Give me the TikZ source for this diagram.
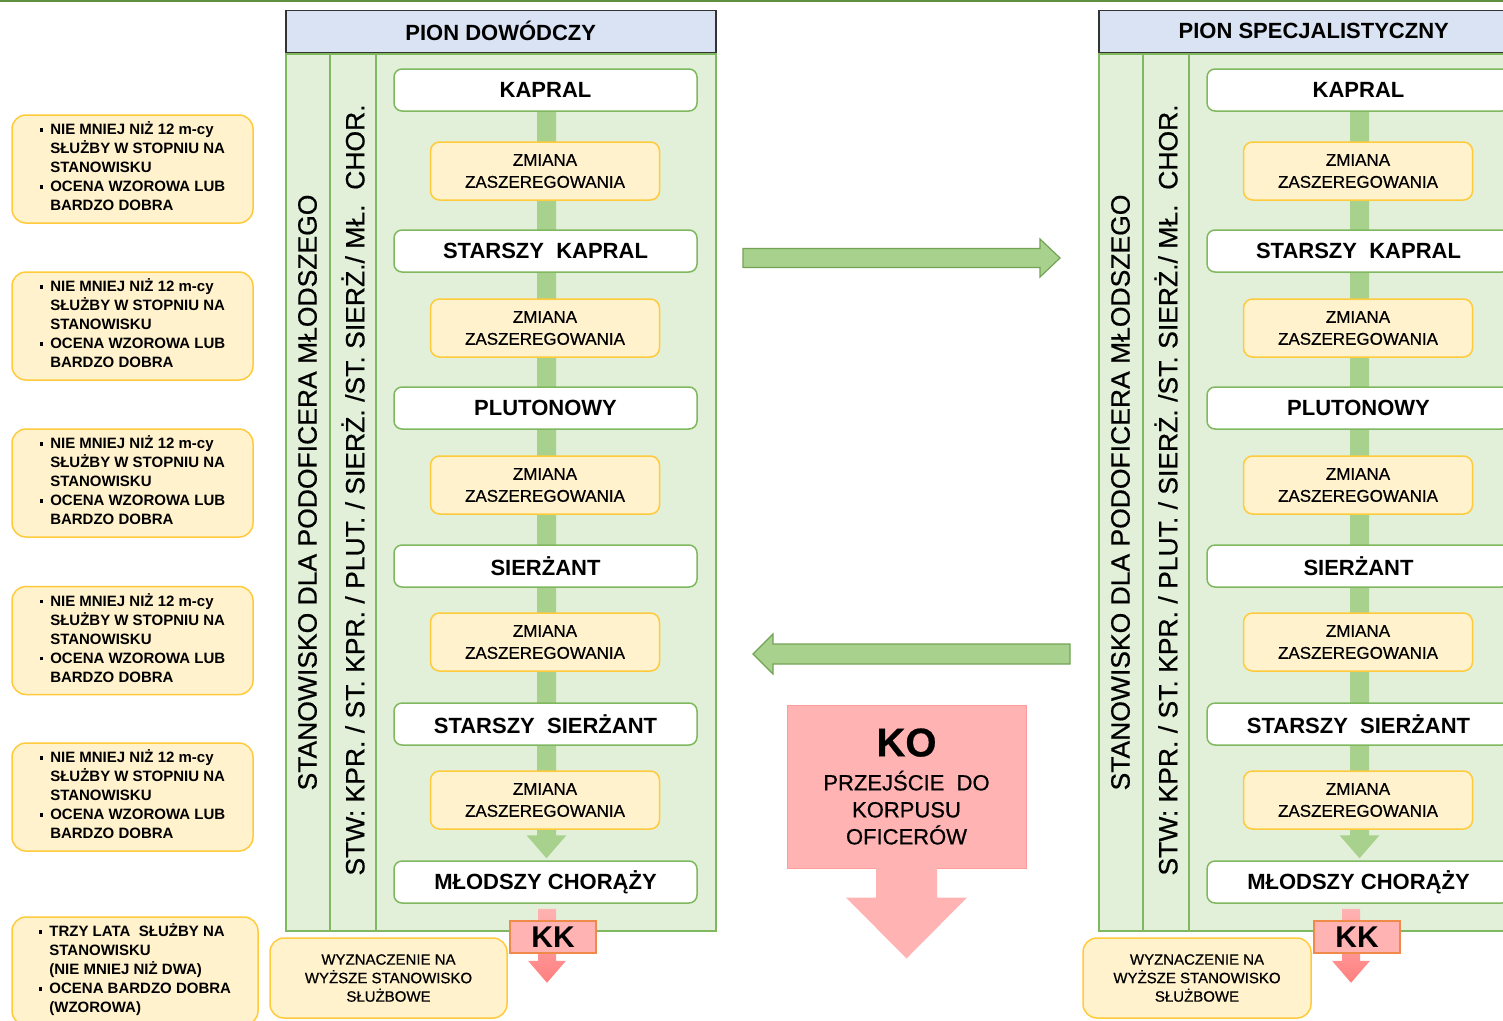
\documentclass[tikz,border=0pt]{standalone}
\usepackage{fontspec}
\setmainfont{Liberation Sans}
\newfontfamily\medfont[FakeBold=0.6]{Liberation Sans}
\usetikzlibrary{calc,positioning}
\pgfdeclarelayer{back}\pgfdeclarelayer{bars}
\pgfsetlayers{back,bars,main}
\definecolor{panelgreen}{HTML}{E2F0D9}
\definecolor{linegreen}{HTML}{7FB85E}
\definecolor{bargreen}{HTML}{A9D18E}
\definecolor{arrowedge}{HTML}{72A355}
\definecolor{headblue}{HTML}{DAE3F3}
\definecolor{noteyellow}{HTML}{FFF2CC}
\definecolor{notegold}{HTML}{FFCB3D}
\definecolor{kopink}{HTML}{FFB3B3}
\definecolor{koedge}{HTML}{FF9B9B}
\definecolor{kkedge}{HTML}{F08A4B}
\definecolor{kkred}{HTML}{FF7F7F}
\definecolor{topgreen}{HTML}{5E8F3E}
\newcommand{\bul}{\rule[3pt]{3.5pt}{3.5pt}}
\newcommand{\reqtext}{\begin{tabular}{@{}l@{\hspace{7pt}}l@{}}\bul & NIE MNIEJ NIŻ 12 m-cy\\ & SŁUŻBY W STOPNIU NA\\ & STANOWISKU\\ \bul & OCENA WZOROWA LUB\\ & BARDZO DOBRA\end{tabular}}
\tikzset{rank/.style={draw=linegreen, fill=white, rounded corners=8pt, line width=1.5pt, minimum width=303pt, minimum height=42pt, inner sep=0pt, font=\fontsize{22}{26}\selectfont\bfseries},
  change/.style={draw=notegold, fill=noteyellow, rounded corners=9pt, line width=1.5pt, minimum width=229pt, minimum height=58pt, inner sep=0pt, align=center, font=\fontsize{17}{22}\selectfont\medfont},
  req/.style={draw=notegold, fill=noteyellow, rounded corners=14pt, line width=1.5pt, minimum width=241pt, minimum height=108pt, inner sep=0pt, font=\fontsize{15}{19}\selectfont\bfseries},
  promo/.style={change, minimum width=#1, minimum height=80pt, rounded corners=14pt, font=\fontsize{15}{18.5}\selectfont\medfont},
  head/.style={draw=black!80, fill=headblue, line width=1.5pt, font=\fontsize{22}{26}\selectfont\bfseries},
  panel/.style={draw=linegreen, fill=panelgreen, line width=1.5pt},
  vlabel/.style={rotate=90, font=\fontsize{26.5}{30}\selectfont\medfont},
  garrow/.style={draw=arrowedge, fill=bargreen, line width=1.2pt},
  kk/.style={draw=kkedge, fill=kopink, line width=1.5pt, minimum width=86pt, minimum height=32pt, inner sep=0pt, font=\fontsize{30}{30}\selectfont\bfseries}}
\begin{document}
\begin{tikzpicture}[x=1pt,y=-1pt]
    \useasboundingbox (0,0) rectangle (1503,1020);
    \clip (0,0) rectangle (1503,1020);
    \begin{pgfonlayer}{back}
        \fill[white] (0,0) rectangle (1503,1020);
    \end{pgfonlayer}
    \draw[topgreen, line width=3pt] (0,0) -- (1503,0);

    % both career ladders
    \foreach \p/\dx/\kx/\wx/\ww/\pname in {D/0/7.5/388.5/237/PION DOWÓDCZY, S/813/-1.5/1197/228/PION SPECJALISTYCZNY}{
        \begin{pgfonlayer}{back}
            \node[panel, anchor=north west, minimum width=430pt, minimum height=877pt] (\p body) at (285+\dx,53) {};
            \draw[linegreen, line width=1.5pt] ($(\p body.north west)+(45,0)$) -- ($(\p body.south west)+(45,0)$)
                ($(\p body.north west)+(91,0)$) -- ($(\p body.south west)+(91,0)$);
        \end{pgfonlayer}
        \node[head, anchor=south west, minimum width=430pt, minimum height=42pt] (\p head) at (\p body.north west) {\pname};
        \node[vlabel] (\p post) at ($(\p body.north west)+(22.5,439.5)$) {STANOWISKO DLA PODOFICERA MŁODSZEGO};
        \node[vlabel] (\p grades) at ($(\p body.north west)+(68,437)$) {STW: KPR. / ST. KPR. / PLUT. / SIERŻ. /ST. SIERŻ./ MŁ.\ \ CHOR.};
        \foreach \i/\y/\r in {1/90/KAPRAL, 2/251/STARSZY\ \ KAPRAL, 3/408/PLUTONOWY, 4/566/SIERŻANT, 5/724/STARSZY\ \ SIERŻANT, 6/882/MŁODSZY CHORĄŻY}
            \node[rank] (\p r\i) at (545.5+\dx,\y) {\r};
        \foreach \i/\y in {1/171, 2/328, 3/485, 4/642, 5/800}
            \node[change] (\p c\i) at (545+\dx,\y) {ZMIANA\\ZASZEREGOWANIA};
        \begin{pgfonlayer}{bars}
            \fill[bargreen] ($(\p r1.south)+(-8.5,0)$) -- ($(\p r6.north)+(-8.5,-25)$) -- ++(-10.5,0) -- ($(\p r6.north)+(1,-2)$)
                -- ($(\p r6.north)+(21,-25)$) -- ++(-10.5,0) -- ($(\p r1.south)+(10.5,0)$) -- cycle;
        \end{pgfonlayer}
        \coordinate (\p kt) at ($(\p r6.south)+(\kx-6,5)$);
        \shade[top color=kopink, bottom color=kkred] ($(\p kt)+(-9,0)$) -- ++(0,52) -- ++(-10,0) -- ++(19,22) -- ++(19,-22) -- ++(-10,0) -- ++(0,-52) -- cycle;
        \node[kk] (\p kk) at ($(\p r6.south)+(\kx,33)$) {KK};
        \node[promo=\ww pt] (\p promo) at (\wx,978) {WYZNACZENIE NA\\WYŻSZE STANOWISKO\\SŁUŻBOWE};
    }

    % requirements
    \foreach \i/\y in {1/169, 2/326, 3/483, 4/640.5, 5/797}
        \node[req] (req\i) at (132.5,\y) {\reqtext};
    \node[req, minimum width=246pt] (req6) at (135,971) {\begin{tabular}{@{}l@{\hspace{7pt}}l@{}}\bul & TRZY LATA\ \ SŁUŻBY NA\\ & STANOWISKU\\ & (NIE MNIEJ NIŻ DWA)\\ \bul & OCENA BARDZO DOBRA\\ & (WZOROWA)\end{tabular}};

    % transfer between ladders
    \coordinate (fwdS) at (743,258);
    \coordinate (fwdT) at (1060,258);
    \draw[garrow] ($(fwdS)+(0,-9.5)$) -- ($(fwdT)+(-20,-9.5)$) -- ($(fwdT)+(-20,-19)$) -- (fwdT) -- ($(fwdT)+(-20,19)$) -- ($(fwdT)+(-20,9.5)$) -- ($(fwdS)+(0,9.5)$) -- cycle;
    \coordinate (backS) at (1070,654);
    \coordinate (backT) at (753,654);
    \draw[garrow] ($(backS)+(0,-10)$) -- ($(backT)+(20,-10)$) -- ($(backT)+(20,-20)$) -- (backT) -- ($(backT)+(20,20)$) -- ($(backT)+(20,10)$) -- ($(backS)+(0,10)$) -- cycle;

    % officer corps
    \node[draw=koedge, fill=kopink, line width=1pt, minimum width=239pt, minimum height=163pt, align=center, font=\fontsize{22}{27}\selectfont\medfont] (ko) at (906.5,786.5)
        {{\fontsize{40}{40}\selectfont\bfseries KO}\\[7pt]PRZEJŚCIE\ \ DO\\KORPUSU\\OFICERÓW};
    \fill[kopink] ($(ko.south)+(-30.5,-1.5)$) -- ++(0,30.5) -- ++(-30,0) -- ($(ko.south)+(0,90)$) -- ($(ko.south)+(60.5,29)$) -- ++(-30,0) -- ++(0,-30.5) -- cycle;
\end{tikzpicture}
\end{document}
